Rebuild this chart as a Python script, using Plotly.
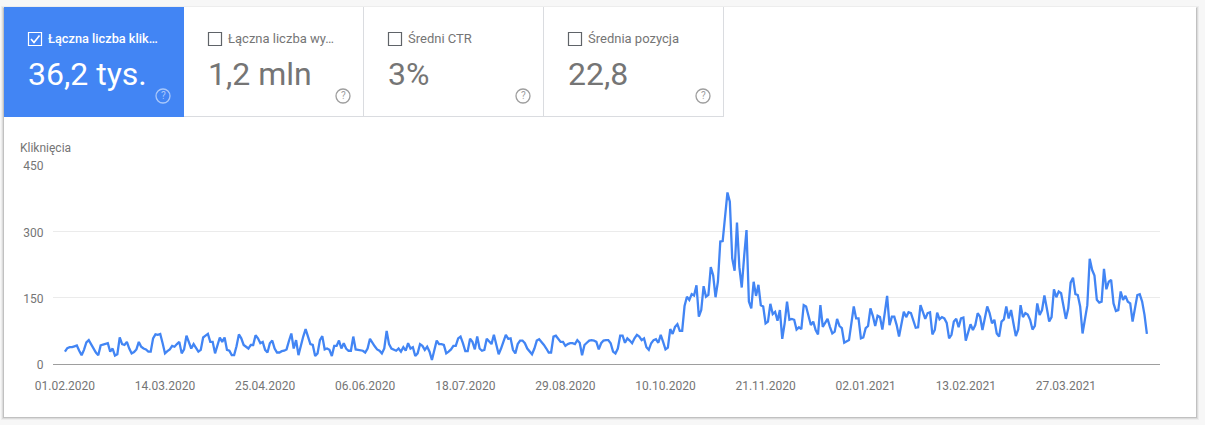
import plotly.graph_objects as go
import pandas as pd

clicks = [
    28, 36, 38, 38, 40, 42, 30, 20, 32, 49,
    54, 45, 33, 26, 20, 42, 44, 45, 47, 28,
    35, 19, 22, 60, 45, 43, 50, 35, 24, 27,
    33, 50, 39, 35, 33, 28, 28, 58, 67, 66,
    68, 47, 24, 29, 33, 41, 39, 45, 50, 24,
    33, 64, 47, 35, 45, 35, 28, 32, 60, 64,
    68, 50, 50, 24, 43, 60, 50, 60, 32, 30,
    20, 20, 40, 67, 58, 43, 39, 35, 43, 43,
    65, 58, 47, 50, 32, 26, 47, 53, 35, 26,
    26, 29, 30, 33, 52, 69, 35, 54, 20, 43,
    62, 79, 62, 45, 43, 18, 24, 54, 63, 33,
    35, 32, 18, 41, 41, 53, 35, 47, 35, 30,
    30, 62, 33, 32, 30, 30, 26, 35, 57, 47,
    40, 33, 30, 24, 35, 75, 45, 35, 33, 30,
    35, 28, 38, 30, 47, 35, 38, 18, 24, 45,
    41, 32, 39, 28, 9, 28, 53, 45, 45, 43,
    24, 28, 33, 41, 41, 58, 62, 47, 29, 29,
    57, 50, 33, 62, 35, 30, 32, 57, 50, 45,
    66, 43, 22, 35, 50, 66, 57, 58, 32, 24,
    45, 53, 53, 47, 35, 29, 22, 35, 53, 56,
    50, 43, 35, 26, 26, 62, 64, 57, 50, 50,
    41, 45, 47, 47, 45, 54, 48, 20, 43, 48,
    53, 54, 53, 50, 33, 47, 53, 54, 54, 47,
    28, 24, 35, 64, 64, 48, 58, 53, 47, 58,
    66, 62, 54, 58, 38, 32, 47, 54, 56, 48,
    66, 50, 33, 37, 79, 68, 84, 90, 75, 75,
    131, 152, 145, 158, 155, 178, 107, 122, 176, 152,
    156, 219, 201, 151, 186, 277, 278, 333, 388, 367,
    239, 211, 320, 219, 173, 243, 303, 141, 126, 186,
    154, 179, 133, 130, 92, 96, 136, 113, 118, 98,
    122, 57, 92, 141, 100, 102, 100, 78, 83, 79,
    133, 130, 111, 88, 96, 77, 67, 133, 84, 93,
    102, 84, 69, 73, 102, 86, 81, 48, 51, 54,
    92, 130, 103, 103, 58, 60, 81, 86, 126, 109,
    86, 109, 106, 78, 115, 154, 88, 107, 107, 88,
    62, 92, 118, 106, 117, 115, 96, 82, 83, 133,
    118, 102, 115, 117, 67, 77, 116, 101, 106, 103,
    93, 58, 66, 96, 102, 83, 103, 105, 53, 69,
    90, 77, 88, 115, 107, 77, 103, 130, 115, 92,
    100, 69, 62, 96, 101, 130, 103, 122, 92, 63,
    78, 133, 106, 115, 112, 100, 78, 86, 137, 111,
    122, 155, 126, 96, 106, 169, 151, 164, 160, 133,
    102, 126, 184, 195, 158, 156, 130, 69, 100, 133,
    238, 213, 200, 145, 139, 141, 215, 169, 186, 190,
    137, 120, 122, 164, 145, 154, 141, 137, 96, 122,
    156, 158, 141, 111, 68,
]
dates = pd.date_range("2020-02-01", periods=len(clicks), freq="D")
x_tick_dates = ["2020-02-01", "2020-03-14", "2020-04-25", "2020-06-06", "2020-07-18",
                "2020-08-29", "2020-10-10", "2020-11-21", "2021-01-02", "2021-02-13", "2021-03-27"]
x_tick_labels = ["01.02.2020", "14.03.2020", "25.04.2020", "06.06.2020", "18.07.2020",
                 "29.08.2020", "10.10.2020", "21.11.2020", "02.01.2021", "13.02.2021", "27.03.2021"]
y_ticks = [0, 150, 300, 450]
card_titles = ["Łączna liczba klik…", "Łączna liczba wy…", "Średni CTR", "Średnia pozycja"]
card_values = ["36,2 tys.", "1,2 mln", "3%", "22,8"]

W, H = 1205, 425
L, R, T, B = 53, 45, 165, 61
PW, PH = W - L - R, H - T - B
BLUE = "#4285f4"
FONT = "Roboto"


def px(x):
    return (x - L) / PW


def py(y):
    return 1 - (y - T) / PH


def rect(x0, y0, x1, y1, fill=None, line=None, lw=1):
    return dict(type="rect", xref="paper", yref="paper", x0=px(x0), x1=px(x1), y0=py(y0), y1=py(y1),
                layer="below", fillcolor=fill or "rgba(0,0,0,0)",
                line=dict(color=line or "rgba(0,0,0,0)", width=lw if line else 0))


def text(x, y, s, size, color, anchor="left", weight=None):
    return dict(xref="paper", yref="paper", x=px(x), y=py(y), text=s, showarrow=False,
                xanchor=anchor, yanchor="middle",
                font=dict(family=FONT, size=size, color=color, weight=weight))


shapes, annots = [], []
# card shadow
for i, a in enumerate([0.04, 0.07, 0.12]):
    g = 3 - i
    shapes.append(rect(4 - g, 7 - g + 2, 1196 + g, 417 + g, fill=f"rgba(0,0,0,{a})"))
shapes.append(rect(4, 7, 1196, 417, fill="#ffffff"))

# score cards
card_x = [4, 184, 364, 544]
shapes.append(rect(4, 7, 184, 117, fill=BLUE))
for xd in [363.5, 543.5, 723.5]:
    shapes.append(dict(type="line", xref="paper", yref="paper", x0=px(xd), x1=px(xd), y0=py(7), y1=py(117),
                       layer="below", line=dict(color="#dadce0", width=1)))
shapes.append(dict(type="line", xref="paper", yref="paper", x0=px(184), x1=px(724), y0=py(116.5), y1=py(116.5),
                   layer="below", line=dict(color="#dadce0", width=1)))

for i, (cx, t, v) in enumerate(zip(card_x, card_titles, card_values)):
    sel = i == 0
    bx = cx + 24
    col_box = "#ffffff" if sel else "#5f6368"
    shapes.append(rect(bx + 0.5, 32.5, bx + 13.5, 45.5, line=col_box, lw=1.2))
    annots.append(text(cx + 42, 38.5, t, 12.75 if sel else 13, "#ffffff" if sel else "#757575",
                       weight=500 if sel else 400))
    annots.append(text(cx + 22, 74, v, 32, "#ffffff" if sel else "#757575"))
    qx, qy = cx + 159, 96
    qc = "rgba(255,255,255,0.55)" if sel else "#9e9e9e"
    shapes.append(dict(type="circle", xref="paper", yref="paper", x0=px(qx - 7), x1=px(qx + 7),
                       y0=py(qy + 7), y1=py(qy - 7), layer="below", line=dict(color=qc, width=1.3),
                       fillcolor="rgba(0,0,0,0)"))
    annots.append(text(qx, qy, "?", 10, qc, anchor="center"))

# tick mark inside the selected checkbox
path = f"M {px(31)} {py(39)} L {px(34)} {py(42.5)} L {px(39.5)} {py(35.5)}"
shapes.append(dict(type="path", xref="paper", yref="paper", path=path, layer="below",
                   line=dict(color="#ffffff", width=1.6)))

annots.append(text(18, 147.5, "Kliknięcia", 12, "#757575"))

fig = go.Figure(go.Scatter(x=dates, y=clicks, mode="lines", hoverinfo="skip",
                           line=dict(color=BLUE, width=2.3, shape="linear")))
fig.update_layout(
    width=W, height=H, autosize=False,
    margin=dict(l=L, r=R, t=T, b=B, pad=0),
    paper_bgcolor="#f7f7f7", plot_bgcolor="rgba(0,0,0,0)",
    showlegend=False, shapes=shapes, annotations=annots,
    font=dict(family=FONT, size=12, color="#757575"),
    xaxis=dict(type="date", range=["2020-01-27", "2021-05-05 12:00"],
               tickmode="array", tickvals=x_tick_dates, ticktext=x_tick_labels,
               showgrid=False, zeroline=False, showline=False,
               ticks="outside", ticklen=11, tickcolor="rgba(0,0,0,0)",
               tickfont=dict(family=FONT, size=12, color="#757575")),
    yaxis=dict(range=[0, 450], tickmode="array", tickvals=y_ticks,
               ticktext=[str(v) for v in y_ticks],
               showgrid=True, gridcolor="#ebebeb", gridwidth=1,
               zeroline=True, zerolinecolor="#9e9e9e", zerolinewidth=1,
               ticks="outside", ticklen=6, tickcolor="rgba(0,0,0,0)",
               ticklabelshift=1,
               tickfont=dict(family=FONT, size=12, color="#757575")),
)
fig.write_html("out.html", config={"displayModeBar": False},
               post_script="document.body.style.margin='0';document.body.style.background='#f7f7f7';")
